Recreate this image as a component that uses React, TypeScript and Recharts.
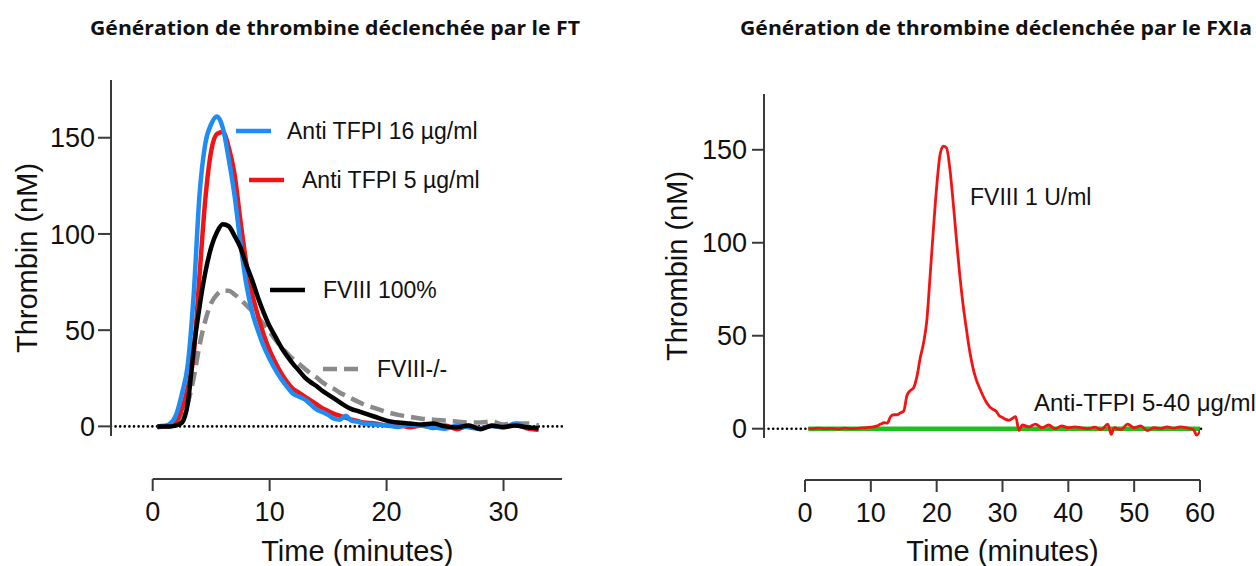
import React from 'react';
import { LineChart, Line, XAxis, YAxis, ReferenceLine } from 'recharts';

const FONT = '"Liberation Sans", Arial, Helvetica, sans-serif';
const AX = '#3a3a3a';

// ---------- Left panel: TF-triggered thrombin generation ----------
const ftTime = [0.4, 1, 1.5, 2, 2.5, 3, 3.5, 4, 4.5, 5, 5.5, 6, 6.5, 7, 7.5, 8, 8.5, 9, 9.5, 10, 10.5, 11, 11.5, 12, 12.5, 13, 13.5, 14, 14.5, 15, 15.5, 16, 16.5, 17, 17.5, 18, 19, 20, 21, 22, 23, 24, 25, 26, 27, 28, 29, 30, 31, 32, 33];
const ftAnti16 = [0, 0.3, 1.5, 6, 17, 32, 68, 120, 147, 157, 161, 155, 139, 120, 95.5, 74, 59.5, 49.8, 41.5, 35, 29.3, 24.5, 20.5, 17, 15.5, 14, 11.5, 8.8, 7.5, 6, 4, 3.5, 5.5, 3, 2.5, 1.5, 1, 0.5, -0.3, 0.8, 0.3, -0.5, -1.2, 0.5, -0.5, -1.2, 0.2, -0.5, 1.5, -1.2, null];
const ftAnti5 = [-0.5, 0, 0.5, 2, 9, 20, 37, 78, 118, 143, 152, 153, 145, 131, 107, 85, 69, 57.5, 47.5, 39.5, 33, 27.5, 23, 19.5, 17.5, 15.5, 13.5, 11.5, 9.5, 8, 6.5, 5.5, 4.5, 3.5, 2.8, 2, 1.5, 0.5, 0.8, -0.5, 0.5, -0.8, 0.5, -1.5, 0.3, -1, 0.5, -0.5, 0.8, -1, -1.8];
const ftFviii100 = [0, 0, 0, 0.5, 2, 12, 40, 62, 80, 93, 101, 105, 104, 99, 93, 84, 76, 67, 59, 52, 46.5, 41, 36.5, 32.5, 29, 25.5, 23, 21, 18.5, 16.5, 14.5, 12.5, 10.5, 9, 8, 7, 5, 3, 2, 1.5, 1, 1.5, 0, -0.5, 0.5, -1.5, 0.3, -0.3, 0.5, -0.5, -1];
const ftFviiiDef = [0, 0, 0, 0.5, 3, 12, 25, 42, 55, 64, 68.5, 70.5, 70.5, 68.5, 66, 63, 60, 56.5, 53, 49, 45, 41, 38, 35, 32.5, 30, 27.5, 25.5, 23, 21, 19.5, 17.5, 16, 14.5, 13, 11.5, 9.5, 7.5, 6, 5, 4, 3.5, 3, 2.5, 2, 2, 2.5, 1, 1.5, 1.5, 0.5];
const ftXTicks = [0, 10, 20, 30];
const yTicks = [0, 50, 100, 150];

// ---------- Right panel: FXIa-triggered thrombin generation ----------
const fxTime = [0.5, 1, 2, 3, 4, 5, 6, 7, 8, 9, 10, 11, 11.5, 12, 12.5, 13, 13.5, 14, 14.5, 15, 15.5, 16, 16.5, 17, 17.5, 18, 18.5, 19, 19.5, 20, 20.5, 21, 21.5, 22, 22.5, 23, 23.5, 24, 24.5, 25, 25.5, 26, 26.5, 27, 27.5, 28, 28.5, 29, 29.5, 30, 30.5, 31, 31.5, 32, 32.5, 33, 34, 35, 36, 37, 38, 39, 40, 41, 42, 43, 44, 45, 46, 46.5, 47, 48, 49, 50, 51, 52, 53, 54, 55, 56, 57, 58, 59, 59.5, 60.3];
const fxFviii = [0, 0, 0.3, 0, 0.2, -0.2, 0.3, 0, 0.2, 0.5, 0.8, 1.5, 2.5, 3.2, 3, 6.5, 7.5, 7.5, 8.5, 9.5, 18, 20.5, 22, 28, 38, 46, 58, 82, 107, 130, 147, 152, 151, 140, 122, 102, 83, 67, 54, 42, 33, 26.5, 22, 18, 14.5, 12, 10.5, 9.5, 7, 6, 5, 4.5, 5.5, 6.5, -1, 2, 1, 2.5, 0.5, 2, 0, 1.5, 0.5, 1, 0.5, 0, 0.8, -0.5, 2.5, -3, 0.5, -0.5, 2.5, 0.5, 1.5, -1, 0.5, 0, 1, 0.3, 1, 0.5, -0.5, -3.5, 1.5];
const fxAntiTime = [0.5, 10, 20, 30, 40, 50, 60.3];
const fxAntiTfpi = [0, 0, 0, 0, 0, 0, 0];
const fxXTicks = [0, 10, 20, 30, 40, 50, 60];

const ftRows = ftTime.map((t, i) => ({
  t,
  anti16: ftAnti16[i],
  anti5: ftAnti5[i],
  fviii100: ftFviii100[i],
  fviiiDef: ftFviiiDef[i],
}));
const fxRows = fxTime.map((t, i) => ({ t, fviii: fxFviii[i] }));
const fxAntiRows = fxAntiTime.map((t, i) => ({ t, anti: fxAntiTfpi[i] }));

const SERIES = {
  anti16: { name: 'Anti TFPI 16 µg/ml', color: '#1e8cf5' },
  anti5: { name: 'Anti TFPI 5 µg/ml', color: '#f21414' },
  fviii100: { name: 'FVIII 100%', color: '#000000' },
  fviiiDef: { name: 'FVIII-/-', color: '#8a8a8a' },
  fxFviii: { name: 'FVIII 1 U/ml', color: '#f21414' },
  fxAnti: { name: 'Anti-TFPI 5-40 μg/ml', color: '#1cc21c' },
};

const YTitle = (props: any) => {
  const { viewBox, text, cx } = props;
  const x = viewBox.x + cx;
  const y = viewBox.y + viewBox.height / 2;
  return (
    <text x={x} y={y} transform={`rotate(-90 ${x} ${y})`} textAnchor="middle" dominantBaseline="central" fontSize={29} fontFamily={FONT} fill="#111">
      {text}
    </text>
  );
};

const XTitle = (props: any) => {
  const { viewBox, text, dy } = props;
  const x = viewBox.x + viewBox.width / 2;
  const y = viewBox.y + dy;
  return (
    <text x={x} y={y} textAnchor="middle" dominantBaseline="central" fontSize={29} fontFamily={FONT} fill="#111">
      {text}
    </text>
  );
};

const tickStyle = { fontSize: 27, fill: '#111', fontFamily: FONT };
const axisLineStyle = { stroke: AX, strokeWidth: 2 };

const abs: React.CSSProperties = { position: 'absolute', left: 0, top: 0 };

// annotation (legend) layout
const ftLegend = [
  { key: 'anti16', x1: 236, x2: 271, y: 131, tx: 287, dash: undefined },
  { key: 'anti5', x1: 249, x2: 284, y: 180, tx: 302, dash: undefined },
  { key: 'fviii100', x1: 270, x2: 305, y: 290, tx: 323, dash: undefined },
  { key: 'fviiiDef', x1: 323, x2: 360, y: 369, tx: 377, dash: '14 7' },
];
const fxLegend = [
  { key: 'fxFviii', tx: 970, y: 197 },
  { key: 'fxAnti', tx: 1034, y: 402 },
];

const TITLE_FONT = '"Open Sans", "Noto Sans", sans-serif';

export default function App() {
  return (
    <div style={{ position: 'absolute', left: 0, top: 0, width: 1256, height: 566, background: '#fff', overflow: 'hidden' }}>
      {/* titles */}
      <svg width={1256} height={566} style={abs}>
        <text x={335} y={27} textAnchor="middle" dominantBaseline="central" fontFamily={TITLE_FONT} fontWeight={700} fontSize={20} textLength={490} lengthAdjust="spacingAndGlyphs" fill="#111">
          Génération de thrombine déclenchée par le FT
        </text>
        <text x={996} y={27} textAnchor="middle" dominantBaseline="central" fontFamily={TITLE_FONT} fontWeight={700} fontSize={20} textLength={512} lengthAdjust="spacingAndGlyphs" fill="#111">
          Génération de thrombine déclenchée par le FXIa
        </text>
      </svg>

      {/* Left panel: data + Y axis */}
      <div style={abs}>
        <LineChart width={600} height={566} data={ftRows} margin={{ top: 80, right: 38, bottom: 130, left: 0 }}>
          <XAxis dataKey="t" type="number" domain={[0, 35]} allowDataOverflow hide height={0} padding={{ left: 41.7, right: 0 }} />
          <YAxis type="number" domain={[-5, 180]} allowDataOverflow ticks={yTicks} interval={0} width={111} tickSize={13} tickMargin={3}
            axisLine={axisLineStyle} tickLine={axisLineStyle} tick={tickStyle}
            label={<YTitle text="Thrombin (nM)" cx={27} />} />
          <ReferenceLine y={0} stroke="#000" strokeWidth={2.6} strokeDasharray="0 4.6" strokeLinecap="round" />
          <Line dataKey="fviiiDef" name={SERIES.fviiiDef.name} type="monotone" stroke={SERIES.fviiiDef.color} strokeWidth={4.5} strokeDasharray="14 7" dot={false} isAnimationActive={false} />
          <Line dataKey="anti5" name={SERIES.anti5.name} type="monotone" stroke={SERIES.anti5.color} strokeWidth={4.5} dot={false} isAnimationActive={false} />
          <Line dataKey="anti16" name={SERIES.anti16.name} type="monotone" stroke={SERIES.anti16.color} strokeWidth={4.5} dot={false} isAnimationActive={false} />
          <Line dataKey="fviii100" name={SERIES.fviii100.name} type="monotone" stroke={SERIES.fviii100.color} strokeWidth={4.5} dot={false} isAnimationActive={false} />
        </LineChart>
      </div>

      {/* Left panel: X axis */}
      <div style={abs}>
        <LineChart width={600} height={566} data={ftRows} margin={{ top: 0, right: 38, bottom: 0, left: 152.7 }}>
          <XAxis dataKey="t" type="number" domain={[0, 35]} allowDataOverflow ticks={ftXTicks} interval={0} height={87} tickSize={12} tickMargin={11}
            axisLine={axisLineStyle} tickLine={axisLineStyle} tick={tickStyle}
            label={<XTitle text="Time (minutes)" dy={72} />} />
          <YAxis hide type="number" domain={[-5, 180]} />
        </LineChart>
      </div>

      {/* Right panel: data + Y axis */}
      <div style={abs}>
        <LineChart width={1256} height={566} data={fxRows} margin={{ top: 94, right: 53, bottom: 128, left: 644 }}>
          <XAxis dataKey="t" type="number" domain={[0, 60]} allowDataOverflow hide height={0} padding={{ left: 41, right: 3 }} />
          <YAxis type="number" domain={[-5, 180]} allowDataOverflow ticks={yTicks} interval={0} width={120} tickSize={12} tickMargin={5}
            axisLine={axisLineStyle} tickLine={axisLineStyle} tick={tickStyle}
            label={<YTitle text="Thrombin (nM)" cx={33} />} />
          <ReferenceLine y={0} stroke="#000" strokeWidth={2.6} strokeDasharray="0 4.6" strokeLinecap="round" />
          <Line data={fxAntiRows} dataKey="anti" name={SERIES.fxAnti.name} type="linear" stroke={SERIES.fxAnti.color} strokeWidth={4.5} dot={false} isAnimationActive={false} />
          <Line dataKey="fviii" name={SERIES.fxFviii.name} type="monotone" stroke={SERIES.fxFviii.color} strokeWidth={2.8} dot={false} isAnimationActive={false} />
        </LineChart>
      </div>

      {/* Right panel: X axis */}
      <div style={abs}>
        <LineChart width={1256} height={566} data={fxRows} margin={{ top: 0, right: 56, bottom: 0, left: 805 }}>
          <XAxis dataKey="t" type="number" domain={[0, 60]} allowDataOverflow ticks={fxXTicks} interval={0} height={86} tickSize={12} tickMargin={11}
            axisLine={axisLineStyle} tickLine={axisLineStyle} tick={tickStyle}
            label={<XTitle text="Time (minutes)" dy={71} />} />
          <YAxis hide type="number" domain={[-5, 180]} />
        </LineChart>
      </div>

      {/* in-plot legends / annotations */}
      <svg width={1256} height={566} style={abs}>
        {ftLegend.map((e) => {
          const s = (SERIES as any)[e.key];
          return (
            <g key={e.key}>
              <line x1={e.x1} x2={e.x2} y1={e.y} y2={e.y} stroke={s.color} strokeWidth={4.5} strokeDasharray={e.dash} />
              <text x={e.tx} y={e.y} dominantBaseline="central" fontSize={23} fontFamily={FONT} fill="#111">{s.name}</text>
            </g>
          );
        })}
        {fxLegend.map((e) => {
          const s = (SERIES as any)[e.key];
          return (
            <text key={e.key} x={e.tx} y={e.y} dominantBaseline="central" fontSize={e.key === 'fxAnti' ? 24 : 23} fontFamily={FONT} fill="#111">{s.name}</text>
          );
        })}
      </svg>
    </div>
  );
}
